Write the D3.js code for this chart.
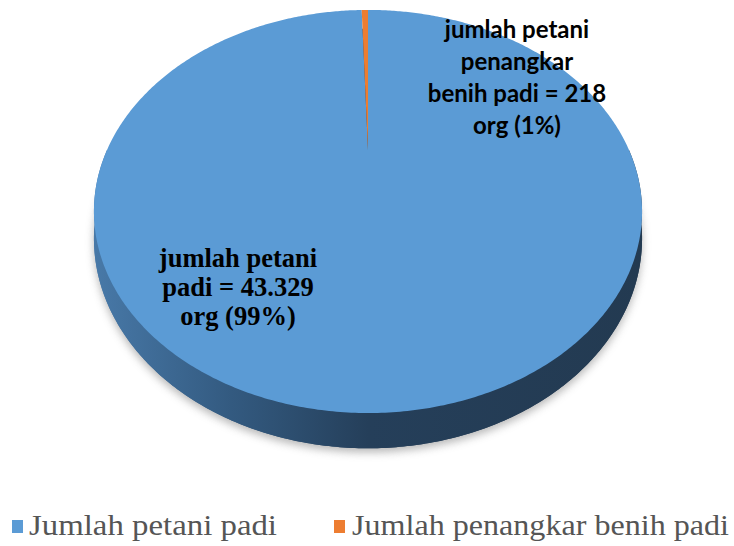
<!DOCTYPE html>
<html>
<head>
<meta charset="utf-8">
<script src="https://cdn.jsdelivr.net/npm/d3@7"></script>
<style>
  body { margin: 0; background: #fff; }
  svg { display: block; }
</style>
</head>
<body>
<svg id="drawing_region"></svg>
<script>
const categories = ["Jumlah petani padi", "Jumlah penangkar benih padi"];
const values = [43329, 218];
const colors = ["#5b9bd5", "#ed7d31"];
const labelLines = [
    ["jumlah petani", "padi = 43.329", "org (99%)"],
    ["jumlah petani", "penangkar", "benih padi = 218", "org (1%)"]
];

const width = 734, height = 546;
const SERIF = '"Liberation Serif"';
const SANS = 'Lato';

const svg = d3.select('#drawing_region')
    .attr('width', width)
    .attr('height', height);

// simple perspective for the tilted pie
const view = { cx: 368, cy: 150, kx: 261, ky: 182.8, p: 0.305, drop: 24.5 };
const rscale = d3.scaleLinear().domain([0, 1]).range([0, 1]);

function proj(a, r, down) {
    const u = rscale(r) * Math.sin(a);
    const v = rscale(r) * Math.cos(a);
    const w = 1 + view.p * v;
    return [view.cx + view.kx * u / w, view.cy - view.ky * v / w + (down ? view.drop / w : 0)];
}

function rim(a0, a1, down) {
    const n = Math.max(2, Math.ceil((a1 - a0) / 0.01));
    return d3.range(n + 1).map(i => proj(a0 + (a1 - a0) * i / n, 1, down));
}

const line = d3.line();

const defs = svg.append('defs');
const grad = defs.append('linearGradient')
    .attr('id', 'side')
    .attr('gradientUnits', 'userSpaceOnUse')
    .attr('x1', 94).attr('x2', 643).attr('y1', 0).attr('y2', 0);
grad.append('stop').attr('offset', 0).attr('stop-color', '#4879a8');
grad.append('stop').attr('offset', 0.25).attr('stop-color', '#335a80');
grad.append('stop').attr('offset', 0.5).attr('stop-color', '#253f5a');
grad.append('stop').attr('offset', 1).attr('stop-color', '#233a51');

defs.append('filter').attr('id', 'blur')
    .attr('x', '-10%').attr('y', '-10%').attr('width', '120%').attr('height', '130%')
    .append('feGaussianBlur').attr('stdDeviation', 4);

const chart = svg.append('g');

// shadow
chart.append('path')
    .attr('d', line(rim(0, 2 * Math.PI, true)) + 'Z')
    .attr('transform', 'translate(0,4)')
    .attr('fill', '#999')
    .attr('opacity', 0.7)
    .attr('filter', 'url(#blur)');

// bottom + side
chart.append('path')
    .attr('d', line(rim(0, 2 * Math.PI, true)) + 'Z')
    .attr('fill', 'url(#side)');
const band = rim(Math.PI / 2, 3 * Math.PI / 2, false)
    .concat(rim(Math.PI / 2, 3 * Math.PI / 2, true).reverse());
chart.append('path')
    .attr('d', line(band) + 'Z')
    .attr('fill', 'url(#side)');

// top face
const pie = d3.pie().sort(null).startAngle(0).endAngle(2 * Math.PI);
const arcs = pie(values);

chart.selectAll('path.slice')
    .data(arcs)
    .enter()
    .append('path')
    .attr('class', 'slice')
    .attr('d', d => line([proj(0, 0, false)].concat(rim(d.startAngle, d.endAngle, false))) + 'Z')
    .attr('fill', (d, i) => colors[i]);

// labels
const labelPos = [
    { x: 238, y: 267, dy: 29, font: SERIF, size: 26.5 },
    { x: 517, y: 38, dy: 32, font: SANS, size: 24 }
];
labelLines.forEach((lines, i) => {
    const t = chart.append('text')
        .style('font-family', labelPos[i].font)
        .style('font-size', labelPos[i].size + 'px')
        .style('font-weight', 'bold')
        .attr('text-anchor', 'middle')
        .attr('fill', '#000');
    lines.forEach((s, j) => {
        t.append('tspan')
            .attr('x', labelPos[i].x)
            .attr('y', labelPos[i].y + j * labelPos[i].dy)
            .text(s);
    });
});

// legend
const legendItems = [
    { x: 12, tx: 29, tw: 248 },
    { x: 334, tx: 352, tw: 377 }
];
const legend = svg.append('g');
categories.forEach((c, i) => {
    legend.append('rect')
        .attr('x', legendItems[i].x)
        .attr('y', 520)
        .attr('width', 11)
        .attr('height', 13)
        .attr('fill', colors[i]);
    legend.append('text')
        .style('font-family', SERIF)
        .style('font-size', '29px')
        .attr('x', legendItems[i].tx)
        .attr('y', 535)
        .attr('fill', '#555')
        .attr('textLength', legendItems[i].tw)
        .attr('lengthAdjust', 'spacingAndGlyphs')
        .text(c);
});
</script>
</body>
</html>
